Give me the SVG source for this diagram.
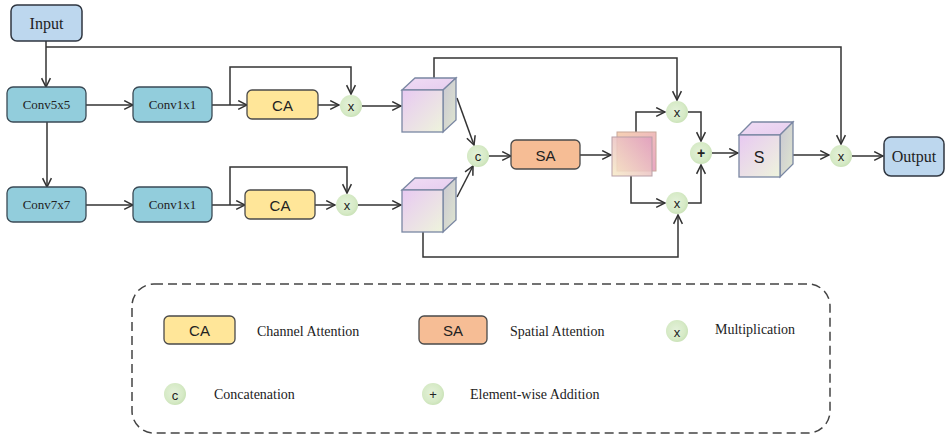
<svg xmlns="http://www.w3.org/2000/svg" width="950" height="438" viewBox="0 0 950 438">
<defs>
<marker id="arr" viewBox="0 0 10 10" refX="9" refY="5" markerWidth="11" markerHeight="11" markerUnits="userSpaceOnUse" orient="auto">
<path d="M1,1 L9,5 L1,9" fill="none" stroke="#333" stroke-width="1.4"/>
</marker>
<radialGradient id="gc" cx="0.45" cy="0.45" r="0.6">
<stop offset="0" stop-color="#e4f1da"/>
<stop offset="0.7" stop-color="#d6eac6"/>
<stop offset="1" stop-color="#c7e0b4"/>
</radialGradient>
<linearGradient id="front" x1="0" y1="0" x2="1" y2="1">
<stop offset="0" stop-color="#e8c9f2"/>
<stop offset="1" stop-color="#eef4dc"/>
</linearGradient>
<linearGradient id="topf" x1="0" y1="0" x2="1" y2="1">
<stop offset="0" stop-color="#f0dcf5"/>
<stop offset="1" stop-color="#e6cdee"/>
</linearGradient>
<linearGradient id="side" x1="0" y1="0" x2="1" y2="1">
<stop offset="0" stop-color="#c9c7d2"/>
<stop offset="1" stop-color="#dfe6cf"/>
</linearGradient>
<linearGradient id="sqback" x1="0" y1="0" x2="1" y2="1">
<stop offset="0" stop-color="#f6d2b4"/>
<stop offset="1" stop-color="#e9a6c4"/>
</linearGradient>
<linearGradient id="sqfront" x1="1" y1="0" x2="0" y2="1">
<stop offset="0" stop-color="#e09ebf"/>
<stop offset="1" stop-color="#f7ebc6"/>
</linearGradient>
</defs>
<style>
.term{fill:#bdd7ee;stroke:#2f3640;stroke-width:1.5}
.conv{fill:#92cddc;stroke:#3a4a55;stroke-width:1.3}
.ca{fill:#ffe699;stroke:#4a4a4a;stroke-width:1.3}
.sa{fill:#f6bd95;stroke:#4a4a4a;stroke-width:1.3}
.op{fill:url(#gc)}
.serif{font-family:"Liberation Serif","Times New Roman",serif;fill:#222;text-anchor:middle;dominant-baseline:central}
.sans{font-family:"Liberation Sans",Arial,sans-serif;fill:#222;text-anchor:middle;dominant-baseline:central}
.leg{font-family:"Liberation Serif","Times New Roman",serif;fill:#222;font-size:14px;dominant-baseline:central}
.cube{stroke:#7a87a3;stroke-width:1.3}
#connectors path{fill:none;stroke:#333;stroke-width:1.5}
</style>
<rect width="950" height="438" fill="#fff"/>

<g id="connectors">
<path d="M46,41 V87" marker-end="url(#arr)"/>
<path d="M46,47 H841 V144" marker-end="url(#arr)"/>
<path d="M86,105 H133" marker-end="url(#arr)"/>
<path d="M47,122 V187" marker-end="url(#arr)"/>
<path d="M86,205 H133" marker-end="url(#arr)"/>
<path d="M212,105 H247" marker-end="url(#arr)"/>
<path d="M230,105 V67 H351 V94" marker-end="url(#arr)"/>
<path d="M318,105 H339" marker-end="url(#arr)"/>
<path d="M362,106 H401" marker-end="url(#arr)"/>
<path d="M212,205 H245" marker-end="url(#arr)"/>
<path d="M230,205 V167 H347 V193" marker-end="url(#arr)"/>
<path d="M315,205 H335" marker-end="url(#arr)"/>
<path d="M358,205 H401" marker-end="url(#arr)"/>
<path d="M434,78 V58 H677 V100" marker-end="url(#arr)"/>
<path d="M423,232 V257 H678 V215" marker-end="url(#arr)"/>
<path d="M457,98 L474,145" marker-end="url(#arr)"/>
<path d="M457,197 L473,166" marker-end="url(#arr)"/>
<path d="M489,156 H511" marker-end="url(#arr)"/>
<path d="M580,155 H611" marker-end="url(#arr)"/>
<path d="M636,132 V112 H665" marker-end="url(#arr)"/>
<path d="M631,176 V203 H665" marker-end="url(#arr)"/>
<path d="M688,112 H701 V141" marker-end="url(#arr)"/>
<path d="M688,203 H701 V165" marker-end="url(#arr)"/>
<path d="M712,153 H738" marker-end="url(#arr)"/>
<path d="M793,155 H829" marker-end="url(#arr)"/>
<path d="M852,156 H883" marker-end="url(#arr)"/>
</g>

<g id="input"><rect class="term" x="11" y="5" width="71" height="36" rx="6"/><text class="serif" x="46.5" y="23" font-size="16">Input</text></g>
<g id="conv5x5"><rect class="conv" x="7" y="87" width="79" height="35" rx="6"/><text class="serif" x="46.5" y="104.5" font-size="13">Conv5x5</text></g>
<g id="conv7x7"><rect class="conv" x="7" y="187" width="79" height="35" rx="6"/><text class="serif" x="46.5" y="204.5" font-size="13">Conv7x7</text></g>
<g id="conv1x1a"><rect class="conv" x="133" y="87" width="79" height="35" rx="6"/><text class="serif" x="172.5" y="104.5" font-size="13">Conv1x1</text></g>
<g id="conv1x1b"><rect class="conv" x="133" y="187" width="79" height="35" rx="6"/><text class="serif" x="172.5" y="204.5" font-size="13">Conv1x1</text></g>
<g id="ca1"><rect class="ca" x="247" y="90" width="71" height="29" rx="5"/><text class="sans" x="282.5" y="105" font-size="15">CA</text></g>
<g id="ca2"><rect class="ca" x="245" y="190" width="70" height="29" rx="5"/><text class="sans" x="280" y="205" font-size="15">CA</text></g>
<g id="mul1"><circle class="op" cx="351" cy="106" r="11"/><text class="sans" x="351" y="106" font-size="13">x</text></g>
<g id="mul2"><circle class="op" cx="347" cy="205" r="11"/><text class="sans" x="347" y="205" font-size="13">x</text></g>

<g id="cube1">
<polygon class="cube" points="402,90 415,78 456,78 443,90" fill="url(#topf)"/>
<polygon class="cube" points="443,90 456,78 456,120 443,132" fill="url(#side)"/>
<rect class="cube" x="402" y="90" width="41" height="42" fill="url(#front)"/>
</g>
<g id="cube2">
<polygon class="cube" points="402,190 415,178 456,178 443,190" fill="url(#topf)"/>
<polygon class="cube" points="443,190 456,178 456,220 443,232" fill="url(#side)"/>
<rect class="cube" x="402" y="190" width="41" height="42" fill="url(#front)"/>
</g>

<g id="concat"><circle class="op" cx="478" cy="156" r="11"/><text class="sans" x="478" y="156" font-size="13">c</text></g>
<g id="sa"><rect class="sa" x="511" y="140" width="69" height="29" rx="5"/><text class="sans" x="545.5" y="155" font-size="15">SA</text></g>

<g id="maps">
<rect x="617" y="132" width="39" height="39" fill="url(#sqback)" stroke="#c9a89a" stroke-width="1"/>
<rect x="612" y="137" width="40" height="39" fill="url(#sqfront)" fill-opacity="0.85" stroke="#b9a0a8" stroke-width="1"/>
</g>

<g id="mul3"><circle class="op" cx="677" cy="112" r="11"/><text class="sans" x="677" y="112" font-size="13">x</text></g>
<g id="mul4"><circle class="op" cx="677" cy="203" r="11"/><text class="sans" x="677" y="203" font-size="13">x</text></g>
<g id="add"><circle class="op" cx="701" cy="153" r="11"/><text class="sans" x="701" y="153" font-size="14" font-weight="bold">+</text></g>

<g id="scube">
<polygon class="cube" points="739,135 752,122 793,122 780,135" fill="url(#topf)"/>
<polygon class="cube" points="780,135 793,122 793,164 780,177" fill="url(#side)"/>
<rect class="cube" x="739" y="135" width="41" height="42" fill="url(#front)"/>
<text class="sans" x="759" y="157" font-size="16">S</text>
</g>

<g id="mul5"><circle class="op" cx="841" cy="156" r="11"/><text class="sans" x="841" y="156" font-size="13">x</text></g>
<g id="output"><rect class="term" x="884" y="137" width="60" height="39" rx="7"/><text class="serif" x="914" y="156.5" font-size="16">Output</text></g>

<g id="legend">
<rect x="132" y="284" width="698" height="149" rx="22" fill="none" stroke="#444" stroke-width="1.5" stroke-dasharray="9,5"/>
<rect class="ca" x="164" y="316" width="71" height="28" rx="5"/><text class="sans" x="199.5" y="330" font-size="15">CA</text>
<text class="leg" x="257" y="331">Channel Attention</text>
<rect class="sa" x="419" y="316" width="68" height="28" rx="5"/><text class="sans" x="453" y="330" font-size="15">SA</text>
<text class="leg" x="510" y="331">Spatial Attention</text>
<circle class="op" cx="677" cy="331" r="11"/><text class="sans" x="677" y="332" font-size="13">x</text>
<text class="leg" x="715" y="329">Multiplication</text>
<circle class="op" cx="175" cy="394" r="11"/><text class="sans" x="175" y="395" font-size="13">c</text>
<text class="leg" x="214" y="394">Concatenation</text>
<circle class="op" cx="433" cy="394" r="11"/><text class="sans" x="433" y="394" font-size="13">+</text>
<text class="leg" x="470" y="394">Element-wise Addition</text>
</g>
</svg>
